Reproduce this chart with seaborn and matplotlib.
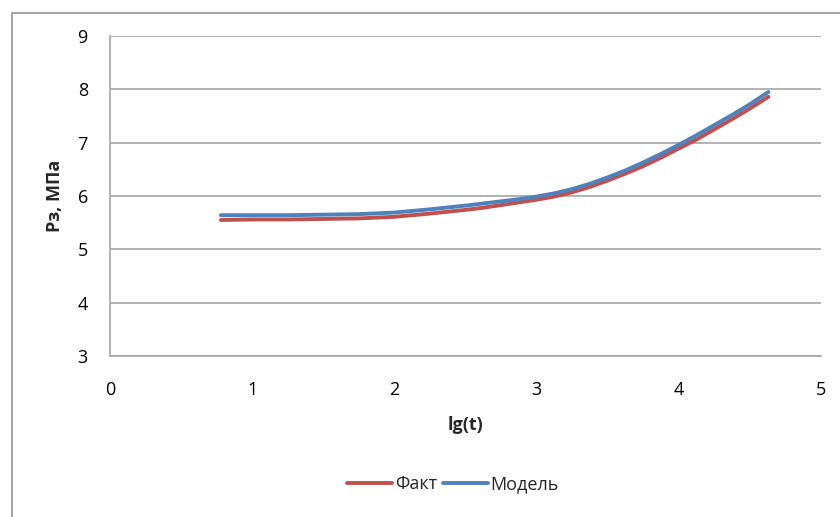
import matplotlib
matplotlib.use("Agg")
import matplotlib.pyplot as plt
import seaborn as sns
import pandas as pd
from matplotlib.lines import Line2D

# lg(t) sample points and bottom-hole pressure, MPa
lg_t = [0.78, 1.0, 1.25, 1.5, 1.75, 2.0, 2.25, 2.5, 2.625, 2.75, 2.875, 3.0, 3.125, 3.25,
        3.375, 3.5, 3.625, 3.75, 3.875, 4.0, 4.125, 4.25, 4.375, 4.5, 4.63]
fact = [5.55, 5.56, 5.56, 5.57, 5.58, 5.61, 5.67, 5.74, 5.78, 5.83, 5.88, 5.93, 5.99, 6.07,
        6.17, 6.29, 6.42, 6.56, 6.72, 6.89, 7.06, 7.25, 7.44, 7.64, 7.86]
model = [5.64, 5.64, 5.64, 5.65, 5.66, 5.69, 5.75, 5.82, 5.86, 5.90, 5.94, 5.99, 6.05, 6.13,
         6.23, 6.35, 6.48, 6.63, 6.79, 6.96, 7.14, 7.33, 7.52, 7.72, 7.95]
series_names = ["Факт", "Модель"]
series_colors = ["#C0504D", "#4F81BD"]
x_ticks = [0, 1, 2, 3, 4, 5]
y_ticks = [3, 4, 5, 6, 7, 8, 9]

sns.set_theme(style="white")
plt.rcParams["font.family"] = ["Open Sans", "DejaVu Sans"]

df = pd.concat([
    pd.DataFrame({"lg": lg_t, "p": fact, "s": series_names[0]}),
    pd.DataFrame({"lg": lg_t, "p": model, "s": series_names[1]}),
])

fig = plt.figure(figsize=(8.4, 5.17), dpi=100)
ax = fig.add_axes([110 / 840, 1 - 356 / 517, (821 - 110) / 840, (356 - 36) / 517])

sns.lineplot(data=df, x="lg", y="p", hue="s", palette=series_colors,
             hue_order=series_names, linewidth=2.8, ax=ax, legend=False,
             sort=False, estimator=None)
for ln in ax.lines:
    ln.set_solid_joinstyle("round")
    ln.set_solid_capstyle("round")

grid_c = "#A6A6A6"
ax.set_xlim(0, 5)
ax.set_ylim(3, 9)
ax.set_xticks(x_ticks)
ax.set_yticks(y_ticks)
ax.yaxis.grid(True, color=grid_c, linewidth=1.2)
ax.xaxis.grid(False)
for side in ["top", "right"]:
    ax.spines[side].set_visible(False)
for side in ["left", "bottom"]:
    ax.spines[side].set_color(grid_c)
    ax.spines[side].set_linewidth(1.2)
ax.tick_params(axis="both", which="major", direction="out", length=6,
               width=1.2, color=grid_c, labelsize=13, labelcolor="#000000")
ax.tick_params(axis="y", pad=10)
ax.tick_params(axis="x", pad=12)

ax.set_xlabel("lg(t)", fontsize=13, fontweight="bold", labelpad=12)
ax.set_ylabel("Рз, МПа", fontsize=13, fontweight="bold", labelpad=10)

handles = [Line2D([0], [0], color=c, linewidth=2.8) for c in series_colors]
fig.legend(handles, series_names, loc="center", bbox_to_anchor=(453 / 840, 1 - 484 / 517),
           ncol=2, frameon=False, fontsize=13, handlelength=2.5, handletextpad=0.15,
           columnspacing=0.3)

# outer chart frame
fig.add_artist(Line2D([12 / 840, 1.0], [1 - 13 / 517, 1 - 13 / 517],
                      transform=fig.transFigure, color=grid_c, linewidth=1.5))
fig.add_artist(Line2D([12 / 840, 12 / 840], [0.0, 1 - 13 / 517],
                      transform=fig.transFigure, color=grid_c, linewidth=1.5))

fig.savefig("out.png", dpi=100)
